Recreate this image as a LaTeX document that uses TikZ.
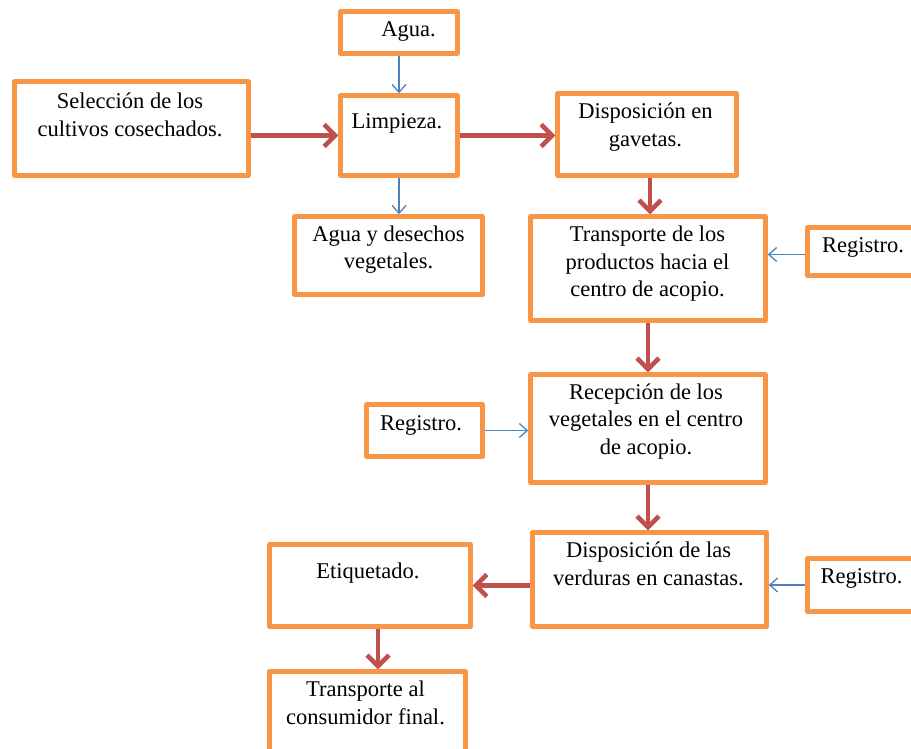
\documentclass[tikz,border=0pt]{standalone}
\usepackage{fontspec}
\setmainfont{Liberation Serif}
\usetikzlibrary{arrows.meta}
\definecolor{boxorange}{HTML}{F79646}
\definecolor{flowred}{HTML}{C0504D}
\definecolor{flowblue}{HTML}{4F81BD}
\tikzset{
  pbox/.style={draw=boxorange, line width=4.4pt, fill=white, inner sep=0pt, line join=round},
  ptext/.style={font=\fontsize{22.5}{27.5}\selectfont, align=center, inner sep=0pt, text=black},
  redflow/.style={draw=flowred, line width=4.5pt, -{Straight Barb[length=11pt,width=22pt]}},
  blueflow/.style={draw=flowblue, line width=1.3pt, -{Straight Barb[length=8pt,width=14pt]}}
}
\newcommand{\lnst}{\strut}
\begin{document}
\begin{tikzpicture}[x=1pt,y=-1pt]
\useasboundingbox (0,0) rectangle (911,749);
\clip (0,0) rectangle (911,749);
% boxes
\node[pbox, minimum width=117pt, minimum height=42pt] (agua)   at (399,32.5) {};
\node[pbox, minimum width=234pt, minimum height=94pt] (sel)    at (131.3,128.5) {};
\node[pbox, minimum width=117pt, minimum height=80pt] (limp)   at (399,135.5) {};
\node[pbox, minimum width=179pt, minimum height=82pt] (disp1)  at (647,134.5) {};
\node[pbox, minimum width=188pt, minimum height=78pt] (desech) at (388.5,255.5) {};
\node[pbox, minimum width=235pt, minimum height=104pt] (trans) at (648,268.5) {};
\node[pbox, minimum width=107pt, minimum height=48pt] (regTR)  at (861,251.5) {};
\node[pbox, minimum width=235pt, minimum height=108pt] (recep) at (648,428.5) {};
\node[pbox, minimum width=116pt, minimum height=52pt] (regL)   at (424.5,430.5) {};
\node[pbox, minimum width=234pt, minimum height=94pt] (dispV)  at (649.5,579.5) {};
\node[pbox, minimum width=107pt, minimum height=53pt] (regBR)  at (861,585) {};
\node[pbox, minimum width=201pt, minimum height=82pt] (etiq)   at (370,585.5) {};
\node[pbox, minimum width=196pt, minimum height=87pt] (cons)   at (367.5,715) {};
% texts
\node[ptext] (t-agua)   at (408.5,31.5) {\lnst Agua.};
\node[ptext] (t-sel)    at (130,117) {\lnst Selección de los\\\lnst cultivos cosechados.};
\node[ptext] (t-limp)   at (397,123.5) {\lnst Limpieza.};
\node[ptext] (t-disp1)  at (645.5,127) {\lnst Disposición en\\\lnst gavetas.};
\node[ptext] (t-desech) at (388.5,249.5) {\lnst Agua y desechos\\\lnst vegetales.};
\node[ptext] (t-trans)  at (647.5,263.5) {\lnst Transporte de los\\\lnst productos hacia el\\\lnst centro de acopio.};
\node[ptext] (t-regTR)  at (863,246.5) {\lnst Registro.};
\node[ptext] (t-recep)  at (646,421) {\lnst Recepción de los\\\lnst vegetales en el centro\\\lnst de acopio.};
\node[ptext] (t-regL)   at (421,424.5) {\lnst Registro.};
\node[ptext] (t-dispV)  at (648.5,566) {\lnst Disposición de las\\\lnst verduras en canastas.};
\node[ptext] (t-regBR)  at (861.5,577.5) {\lnst Registro.};
\node[ptext] (t-etiq)   at (368,572.5) {\lnst Etiquetado.};
\node[ptext] (t-cons)   at (365.5,705) {\lnst Transporte al\\\lnst consumidor final.};
% connectors
\draw[blueflow] (agua.south) -- (limp.north);
\draw[blueflow] (limp.south) -- (limp.south |- desech.north);
\draw[redflow] (sel.east |- limp.west) -- (limp.west);
\draw[redflow] (limp.east) -- (limp.east -| disp1.west);
\draw[redflow] ([xshift=3pt]disp1.south) -- ([xshift=3pt]disp1.south |- trans.north);
\draw[blueflow] ([yshift=-3pt]regTR.west) -- ([yshift=-3pt]regTR.west -| trans.east);
\draw[redflow] (trans.south) -- (recep.north);
\draw[blueflow] (regL.east) -- (regL.east -| recep.west);
\draw[redflow] (recep.south) -- (recep.south |- dispV.north);
\draw[blueflow] (regBR.west) -- (regBR.west -| dispV.east);
\draw[redflow] (dispV.west |- etiq.east) -- (etiq.east);
\draw[redflow] ([xshift=8pt]etiq.south) -- ([xshift=8pt]etiq.south |- cons.north);
\end{tikzpicture}
\end{document}
